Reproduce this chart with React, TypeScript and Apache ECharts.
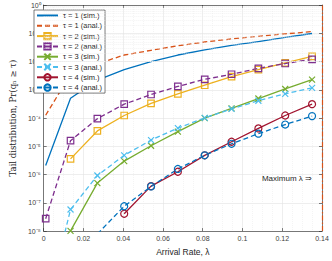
import React, { useEffect, useRef } from "react";
import * as echarts from "echarts";

// Arrival rates (x)
const lambdas = [0.001, 0.0135, 0.027, 0.0405, 0.054, 0.0675, 0.081, 0.0945, 0.108, 0.1215, 0.135];

// Tail probabilities Pr(q_n >= tau)
const tau1Sim = [2.1e-6, 5.0e-4, 2.2e-3, 5.2e-3, 1.0e-2, 1.7e-2, 2.6e-2, 3.7e-2, 5.1e-2, 7.1e-2, 9.8e-2];
const tau1Anal = [1.26e-4, 3.5e-3, 8.3e-3, 1.7e-2, 2.5e-2, 3.6e-2, 4.9e-2, 6.3e-2, 7.8e-2, 9.5e-2, 0.115];
const tau2Sim = [null, 3.6e-6, 3.5e-5, 1.23e-4, 3.3e-4, 7.2e-4, 1.45e-3, 2.9e-3, 5.2e-3, 8.9e-3, 1.51e-2];
const tau2Anal = [2.75e-8, 1.58e-5, 9.5e-5, 3.1e-4, 6.8e-4, 1.32e-3, 2.34e-3, 3.55e-3, 5.75e-3, 8.5e-3, 1.2e-2];
const tau3Sim = [null, 1.02e-8, 5.0e-7, 3.0e-6, 1.05e-5, 3.3e-5, 1.0e-4, 2.2e-4, 4.9e-4, 1.07e-3, 2.3e-3];
const tau3Anal = [1.6e-11, 5.8e-8, 9.3e-7, 4.8e-6, 1.66e-5, 4.4e-5, 1.02e-4, 2.1e-4, 4.1e-4, 7.2e-4, 1.17e-3];
const tau4Sim = [null, null, null, 4.1e-8, 3.9e-7, 1.26e-6, 4.8e-6, 1.45e-5, 4.3e-5, 1.23e-4, 3.1e-4];
const tau4Anal = [null, null, 7.9e-9, 7.6e-8, 3.8e-7, 1.58e-6, 4.8e-6, 1.23e-5, 2.8e-5, 5.9e-5, 1.17e-4];

const seriesNames = [
  "τ = 1 (sim.)",
  "τ = 1 (anal.)",
  "τ = 2 (sim.)",
  "τ = 2 (anal.)",
  "τ = 3 (sim.)",
  "τ = 3 (anal.)",
  "τ = 4 (sim.)",
  "τ = 4 (anal.)",
];

const maxLambda = 0.1362;
const yDecades = [-8, -7, -6, -5, -4, -3, -2, -1];
const minorMultipliers = [2, 3, 4, 5, 6, 7, 8, 9];

const SANS = "'Liberation Sans', Arial, Helvetica, sans-serif";
const AX = "#262626";
const CROSS = "path://M0,0L10,10M10,0L0,10";
const SUP: Record<string, string> = {
  "-": "⁻", "0": "⁰", "1": "¹", "2": "²", "3": "³", "4": "⁴", "5": "⁵", "6": "⁶", "7": "⁷", "8": "⁸", "9": "⁹",
};

function mk(name: string, data: (number | null)[], color: string, dashed: boolean, symbol: string, size: number) {
  const noMarker = symbol === "none";
  return {
    name,
    type: "line",
    data: lambdas.map((x, i) => [x, data[i]]),
    connectNulls: false,
    showSymbol: !noMarker,
    symbol,
    symbolSize: size,
    clip: true,
    silent: true,
    lineStyle: { color, width: 1.3, type: dashed ? [5, 3] : "solid" },
    itemStyle: { color: "rgba(0,0,0,0)", borderColor: noMarker ? "rgba(0,0,0,0)" : color, borderWidth: noMarker ? 0 : 1.2 },
    z: 3,
  };
}

export default function App() {
  const ref = useRef<HTMLDivElement>(null);
  useEffect(() => {
    if (!ref.current) return;
    const chart = echarts.init(ref.current, null, { renderer: "svg" });
    const minorLines: any[] = [];
    yDecades.forEach((d) => minorMultipliers.forEach((m) => minorLines.push({ yAxis: m * Math.pow(10, d) })));
    const sup = (e: number) => String(e).split("").map((c) => SUP[c] ?? c).join("");
    const option: any = {
      animation: false,
      backgroundColor: "#ffffff",
      grid: { left: 29, right: 10, top: 5, bottom: 24 },
      xAxis: [
        {
          type: "value",
          min: 0,
          max: 0.14,
          interval: 0.02,
          position: "bottom",
          name: "Arrival Rate, λ",
          nameLocation: "middle",
          nameGap: 14,
          nameTextStyle: { fontSize: 8.5, color: AX, fontFamily: SANS, verticalAlign: "top" },
          axisLine: { show: true, onZero: false, lineStyle: { color: AX, width: 0.6 } },
          axisTick: { show: true, inside: true, length: 3, lineStyle: { color: AX, width: 0.6 } },
          axisLabel: {
            fontSize: 7,
            color: "#404040",
            margin: 4,
            fontFamily: SANS,
            formatter: (v: number) => String(+v.toFixed(2)),
          },
          splitLine: { show: true, lineStyle: { color: "#e2e2e2", width: 0.6 } },
          minorTick: { show: false, splitNumber: 4 },
          minorSplitLine: { show: true, lineStyle: { color: "#ececec", width: 0.6, type: [1, 1] } },
        },
        {
          type: "value",
          min: 0,
          max: 0.14,
          interval: 0.02,
          position: "top",
          axisLine: { show: true, onZero: false, lineStyle: { color: AX, width: 0.6 } },
          axisTick: { show: true, inside: true, length: 3, lineStyle: { color: AX, width: 0.6 } },
          axisLabel: { show: false },
          splitLine: { show: false },
        },
      ],
      yAxis: [
        {
          type: "log",
          logBase: 10,
          min: 1e-8,
          max: 1,
          splitNumber: 8,
          position: "left",
          name: "Tail distribution, Pr(qₙ ≥ τ)",
          nameLocation: "middle",
          nameGap: 16,
          nameRotate: 90,
          nameTextStyle: { fontSize: 8.5, color: AX, fontFamily: "'DejaVu Serif', 'Liberation Serif', serif" },
          axisLine: { show: true, onZero: false, lineStyle: { color: AX, width: 0.6 } },
          axisTick: { show: true, inside: true, length: 3, lineStyle: { color: AX, width: 0.6 } },
          axisLabel: {
            margin: 3,
            fontSize: 7,
            color: "#404040",
            fontFamily: SANS,
            formatter: (v: number) => "10" + sup(Math.round(Math.log10(v))),
          },
          splitLine: { show: true, lineStyle: { color: "#e2e2e2", width: 0.6 } },
        },
        {
          type: "log",
          logBase: 10,
          min: 1e-8,
          max: 1,
          splitNumber: 8,
          position: "right",
          axisLine: { show: true, onZero: false, lineStyle: { color: AX, width: 0.6 } },
          axisTick: { show: true, inside: true, length: 3, lineStyle: { color: AX, width: 0.6 } },
          axisLabel: { show: false },
          splitLine: { show: false },
        },
      ],
      legend: {
        orient: "vertical",
        left: 34,
        top: 10,
        data: seriesNames,
        itemWidth: 21,
        itemHeight: 8,
        itemGap: 1.3,
        padding: [1, 3, 1, 2],
        backgroundColor: "#ffffff",
        borderColor: AX,
        borderWidth: 0.6,
        borderRadius: 0,
        selectedMode: false,
        textStyle: { fontSize: 7.5, color: AX, fontFamily: SANS, lineHeight: 9 },
      },
      graphic: [
        {
          type: "text",
          right: 20,
          top: 174,
          style: { text: "Maximum λ ⇒", fontSize: 8, fill: AX, fontFamily: SANS },
          z: 10,
        },
      ],
      series: [
        {
          type: "line",
          data: [],
          silent: true,
          z: 1,
          markLine: {
            silent: true,
            symbol: ["none", "none"],
            label: { show: false },
            lineStyle: { color: "#ebebeb", width: 0.6, type: [1, 1] },
            data: minorLines,
          },
        },
        mk(seriesNames[0], tau1Sim, "#0072BD", false, "none", 0),
        mk(seriesNames[1], tau1Anal, "#D95319", true, "none", 0),
        mk(seriesNames[2], tau2Sim, "#EDB120", false, "rect", 6.5),
        mk(seriesNames[3], tau2Anal, "#7E2F8E", true, "rect", 6.5),
        mk(seriesNames[4], tau3Sim, "#77AC30", false, CROSS, 6),
        mk(seriesNames[5], tau3Anal, "#4DBEEE", true, CROSS, 6),
        mk(seriesNames[6], tau4Sim, "#A2142F", false, "circle", 7),
        mk(seriesNames[7], tau4Anal, "#0072BD", true, "circle", 7),
        {
          type: "line",
          data: [],
          silent: true,
          z: 4,
          markLine: {
            silent: true,
            symbol: ["none", "none"],
            label: { show: false },
            lineStyle: { color: "#D95319", width: 1.2, type: [5, 2, 1.5, 2] },
            data: [{ xAxis: maxLambda }],
          },
        },
      ],
    };
    chart.setOption(option);
    return () => chart.dispose();
  }, []);
  return <div ref={ref} style={{ position: "absolute", left: 0, top: 0, width: 332, height: 261 }} />;
}
